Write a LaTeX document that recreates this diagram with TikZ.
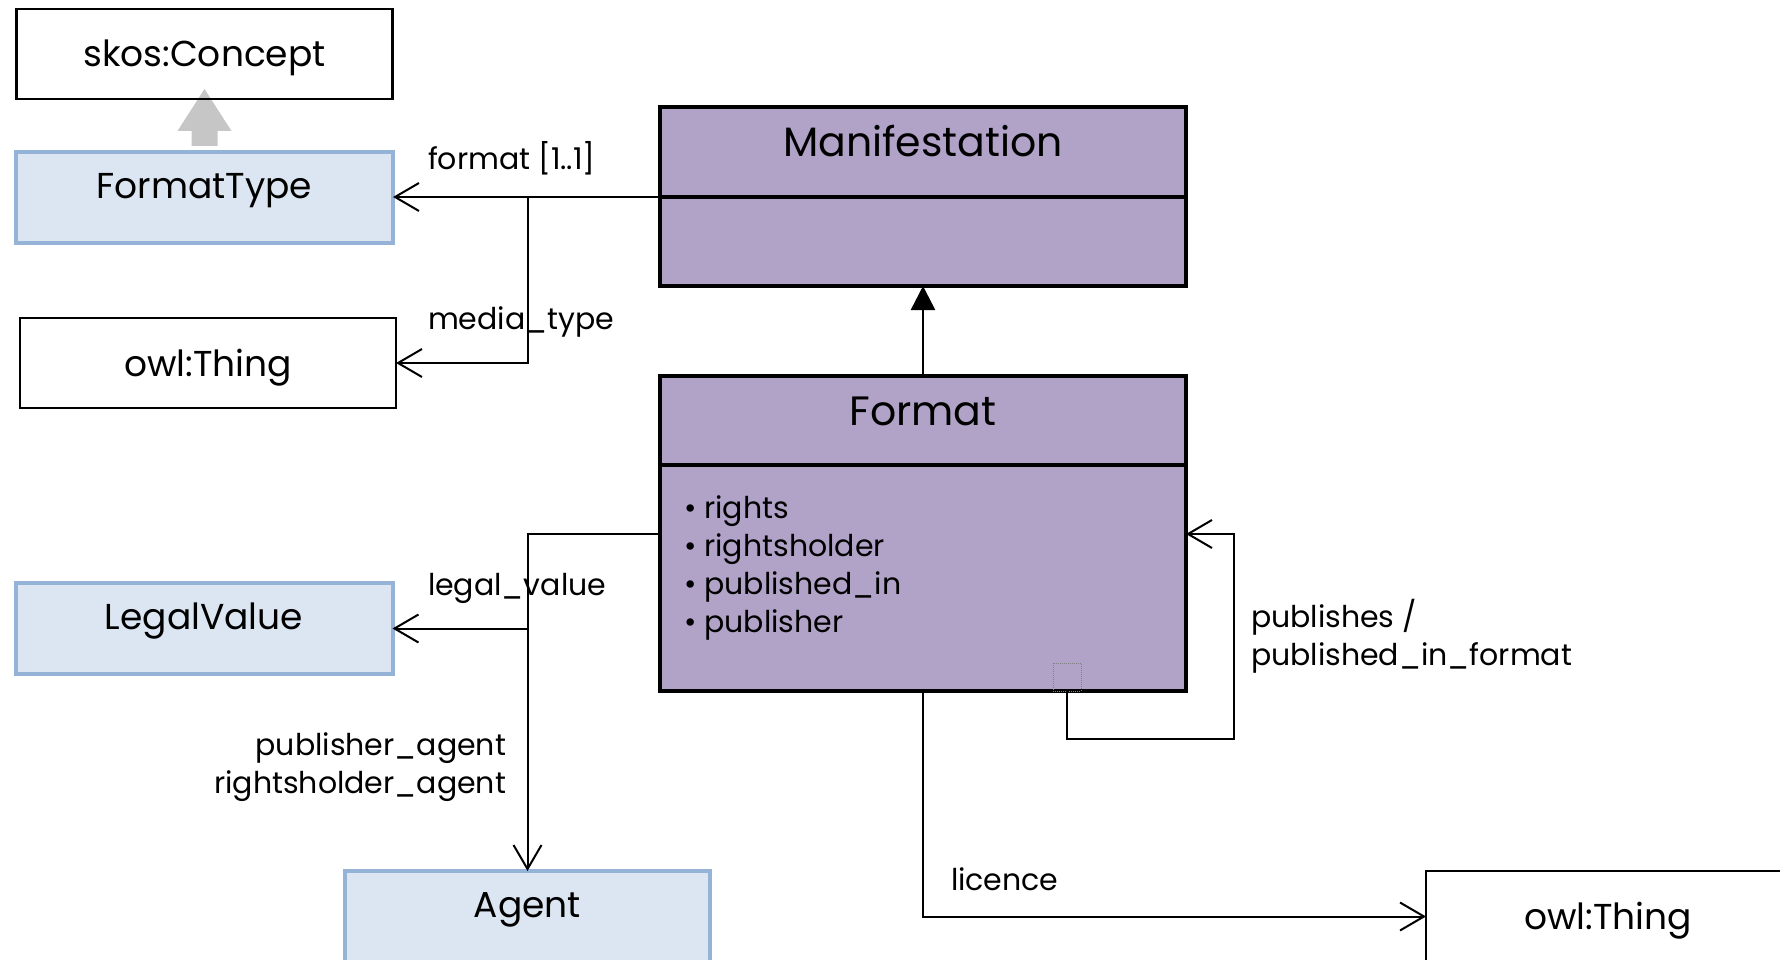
\documentclass[tikz,border=0pt]{standalone}
\usepackage{fontspec}
\setmainfont{Poppins}
\usetikzlibrary{arrows.meta,positioning,backgrounds}

\definecolor{umlpurple}{HTML}{B1A2C7}
\definecolor{umlblue}{HTML}{DCE6F2}
\definecolor{umlblueline}{HTML}{95B3D7}

\begin{document}
\begin{tikzpicture}[x=1pt,y=-1pt,
  every node/.style={inner sep=0pt,outer sep=0pt},
  thing/.style={draw,line width=2.5pt,minimum width=376pt,minimum height=90pt,font=\fontsize{36}{43}\selectfont,text height=28pt,text depth=2pt},
  vocab/.style={draw=umlblueline,fill=umlblue,line width=4pt,minimum width=377pt,minimum height=91pt,font=\fontsize{36}{43}\selectfont,text height=27pt,text depth=25pt},
  classhead/.style={draw,fill=umlpurple,line width=4pt,minimum width=526pt,minimum height=90pt,font=\fontsize{41}{49}\selectfont,text height=28pt,text depth=18pt},
  classbody/.style={draw,fill=umlpurple,line width=4pt,minimum width=526pt},
  lbl/.style={font=\fontsize{30}{38}\selectfont,align=left},
  assoc/.style={line width=2pt,-{Straight Barb[length=24pt,width=28pt]}},
  gen/.style={line width=2.5pt,-{Triangle[length=24pt,width=24pt]}}
]
\useasboundingbox (0,0) rectangle (1780,960);

\node[thing] (skos) at (204.5,54) {skos:Concept};
\node[vocab] (ftype) at (204.5,197.5) {FormatType};
\node[thing] (owlA) at (208,363) {owl:Thing};
\node[vocab] (legal) at (204,628.5) {LegalValue};
\node[vocab,minimum width=365pt] (agent) at (527.5,916.5) {Agent};
\node[thing,minimum width=364pt,minimum height=91pt] (owlB) at (1608,916.5) {owl:Thing};

\node[classhead] (manifhead) at (923,152) {Manifestation};
\node[classbody,minimum height=89pt,below=0pt of manifhead] (manifbody) {};
\node[classhead,minimum height=89pt] (fmthead) at (923,420.5) {Format};
\node[classbody,minimum height=226pt,below=0pt of fmthead] (fmtbody) {};
\node[lbl,anchor=north west] (fmtattr) at ([xshift=24pt,yshift=-31pt]fmtbody.north west)
  {• rights\\• rightsholder\\• published\_in\\• publisher};

\node[lbl,anchor=west] (lfmt) at (428,158) {format [1..1]};
\node[lbl,anchor=west] (lmedia) at (428,322) {media\_type};
\node[lbl,anchor=west] (llegal) at (428,588) {legal\_value};
\node[lbl,anchor=east,align=right] (lagent) at (506,767) {publisher\_agent\\rightsholder\_agent};
\node[lbl,anchor=west] (lpub) at (1251,636) {publishes /\\published\_in\_format};
\node[lbl,anchor=west] (llic) at (951,879) {licence};

\begin{scope}[on background layer]
\fill[gray!45] ([yshift=6pt]ftype.north) ++(-13,0) -- ++(0,-15) -- ++(-14,0) -- ++(27,-42)
  -- ++(27,42) -- ++(-14,0) -- ++(0,15) -- cycle;
\end{scope}

\coordinate (jtop) at (manifbody.north west -| agent.north);
\draw[assoc] (manifbody.north west) -- (manifbody.north west -| ftype.east);
\draw[assoc] (jtop) |- (owlA.east);
\draw[gen] (fmthead.north) -- (manifbody.south);

\coordinate (fmid) at ([yshift=44pt]fmtbody.west);
\draw[assoc] (fmid) -| (agent.north);
\draw[assoc] (fmid -| agent.north) |- (legal.east);
\draw[assoc] (fmtbody.south) |- (owlB.west);

\coordinate (selfout) at ([xshift=144pt]fmtbody.south);
\node[draw=gray,densely dotted,line width=1pt,minimum size=28pt,anchor=south] (selfbox) at (selfout) {};
\draw[assoc] (selfout) |- ++(167,48) |- (fmid -| fmtbody.east);
\end{tikzpicture}
\end{document}
